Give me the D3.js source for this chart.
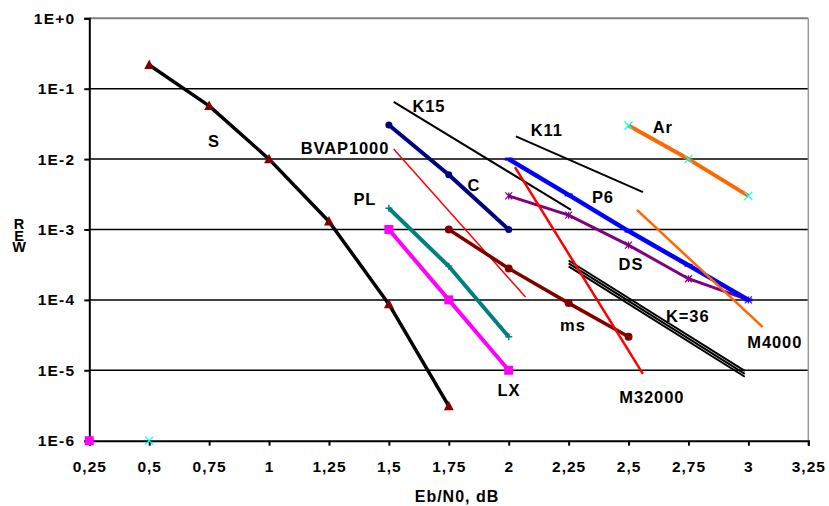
<!DOCTYPE html>
<html><head><meta charset="utf-8">
<script src="https://cdn.jsdelivr.net/npm/d3@7"></script>
<style>
html,body{margin:0;padding:0;background:#fff;}
svg{display:block;}
text{font-family:Arial,"Liberation Sans",sans-serif;font-weight:bold;fill:#000;}
</style></head>
<body>
<svg id="chart" width="829" height="506"></svg>
<script>
// ---- data ----
const xTicks = [0.25,0.5,0.75,1,1.25,1.5,1.75,2,2.25,2.5,2.75,3,3.25];
const yTicks = [1,1e-1,1e-2,1e-3,1e-4,1e-5,1e-6];
const yTickLabels = ["1E+0","1E-1","1E-2","1E-3","1E-4","1E-5","1E-6"];

const S_x = [0.5,0.75,1,1.25,1.5,1.75];
const S_y = [0.217,0.057,0.01,0.0013,8.7e-5,3.1e-6];
const LX_x = [1.5,1.75,2];
const LX_y = [1e-3,1e-4,1e-5];
const PL_x = [1.5,1.75,2];
const PL_y = [2e-3,3e-4,3e-5];
const C_x = [1.5,1.75,2];
const C_y = [0.0305,0.006,0.001];
const ms_x = [1.75,2,2.25,2.5];
const ms_y = [1e-3,2.8e-4,9e-5,3e-5];
const P6_x = [2,2.25,2.5,2.75,3];
const P6_y = [0.01,3.1e-3,9.5e-4,3.1e-4,1e-4];
const DS_x = [2,2.25,2.5,2.75,3];
const DS_y = [3e-3,1.6e-3,6e-4,2e-4,1e-4];
const Ar_x = [2.5,2.75,3];
const Ar_y = [0.03,0.01,0.003];
const BVAP_x = [1.52,2.07];
const BVAP_y = [0.0139,1.1e-4];
const K15_x = [1.52,2.26];
const K15_y = [0.065,0.0019];
const K11_x = [2.03,2.56];
const K11_y = [0.021,0.0034];
const M4000_x = [2.535,3.06];
const M4000_y = [1.9e-3,4.1e-5];
const M32000_x = [2.026,2.56];
const M32000_y = [7.7e-3,8.9e-6];
const K36a_x = [2.25,2.985];
const K36a_y = [3.63e-4,9.8e-6];
const K36b_x = [2.25,2.985];
const K36b_y = [3.3e-4,8.9e-6];
const K36c_x = [2.25,2.985];
const K36c_y = [3.0e-4,8.1e-6];
const stray1_x = [0.25], stray1_y = [1e-6];
const stray2_x = [0.5],  stray2_y = [1e-6];

// label anchors in data units
const labels = [
  ["S",0.77,0.0181],["K15",1.667,0.0568],["BVAP1000",1.317,0.0144],["C",1.855,0.00429],
  ["PL",1.40,0.00271],["K11",2.159,0.0259],["Ar",2.643,0.0286],["P6",2.393,0.0029],
  ["DS",2.51,3.24e-4],["K=36",2.747,5.9e-5],["M4000",3.11,2.52e-5],["ms",2.268,4.4e-5],
  ["LX",2.001,5.25e-6],["M32000",2.597,4.2e-6]
];

// ---- layout ----
const L = 89.3, R = 808.3, T = 18.3, B = 440.7;
const svg = d3.select("#chart");
const x = d3.scaleLinear().domain([0.25,3.25]).range([L,R]);
const y = d3.scaleLog().domain([1e-6,1]).range([B,T]);

// gridlines
svg.append("g").selectAll("line").data(yTicks.filter(v=>v<1 && v>1e-6)).join("line")
  .attr("x1",L).attr("x2",R).attr("y1",d=>y(d)).attr("y2",d=>y(d))
  .attr("stroke","#000").attr("stroke-width",1.5);
// top & right frame (grey)
svg.append("line").attr("x1",L).attr("x2",R).attr("y1",y(1)).attr("y2",y(1))
  .attr("stroke","#7f7f7f").attr("stroke-width",2);
svg.append("line").attr("x1",R).attr("x2",R).attr("y1",T).attr("y2",B)
  .attr("stroke","#9a9a9a").attr("stroke-width",1.5);

// axes
const fmtX = d => String(d).replace(".",",");
const xAxis = svg.append("g").attr("transform",`translate(0,${B})`)
  .call(d3.axisBottom(x).tickValues(xTicks).tickSize(5).tickPadding(15).tickFormat(fmtX));
const yAxis = svg.append("g").attr("transform",`translate(${L},0)`)
  .call(d3.axisLeft(y).tickValues(yTicks).tickSize(5).tickPadding(9)
    .tickFormat((d,i)=>yTickLabels[yTicks.indexOf(d)]));
[xAxis,yAxis].forEach(g=>{
  g.select(".domain").attr("stroke","#000").attr("stroke-width",2);
  g.selectAll(".tick line").attr("stroke","#000").attr("stroke-width",2);
  g.selectAll(".tick text").attr("font-family","Arial, 'Liberation Sans', sans-serif")
    .attr("font-weight","bold").attr("font-size",15.5).attr("fill","#000");
});
xAxis.selectAll(".tick text").style("letter-spacing","1px");
yAxis.selectAll(".tick text").style("letter-spacing","1.2px");

// axis titles
svg.append("text").attr("x",457).attr("y",502).attr("text-anchor","middle")
  .attr("font-size",16).style("letter-spacing","1px").text("Eb/N0, dB");
svg.append("text").attr("x",19).attr("y",216).attr("font-size",14.5)
  .style("writing-mode","vertical-rl").style("text-orientation","upright")
  .style("letter-spacing","-4.5px").text("REW");

// ---- series ----
const line = d3.line().x(d=>x(d[0])).y(d=>y(d[1]));
const zip = (xs,ys)=>xs.map((v,i)=>[v,ys[i]]);

function drawSeries(xs,ys,color,w,marker,mcolor,msize){
  const pts = zip(xs,ys);
  if(pts.length>1){
    svg.append("path").datum(pts).attr("d",line).attr("fill","none")
      .attr("stroke",color).attr("stroke-width",w)
      .attr("stroke-linejoin","round").attr("stroke-linecap","butt");
  }
  if(!marker) return;
  const g = svg.append("g");
  pts.forEach(p=>{
    const cx = x(p[0]), cy = y(p[1]), s = msize;
    if(marker==="tri"){
      g.append("path").attr("d",`M${cx},${cy-s*0.6}L${cx+s*0.55},${cy+s*0.45}L${cx-s*0.55},${cy+s*0.45}Z`).attr("fill",mcolor);
    } else if(marker==="sq"){
      g.append("rect").attr("x",cx-s/2).attr("y",cy-s/2).attr("width",s).attr("height",s).attr("fill",mcolor);
    } else if(marker==="circ"){
      g.append("circle").attr("cx",cx).attr("cy",cy).attr("r",s/2).attr("fill",mcolor);
    } else if(marker==="x"){
      g.append("path").attr("d",`M${cx-s/2},${cy-s/2}L${cx+s/2},${cy+s/2}M${cx-s/2},${cy+s/2}L${cx+s/2},${cy-s/2}`)
        .attr("stroke",mcolor).attr("stroke-width",1.2);
    } else if(marker==="ast"){
      g.append("path").attr("d",`M${cx-s/2},${cy-s/2}L${cx+s/2},${cy+s/2}M${cx-s/2},${cy+s/2}L${cx+s/2},${cy-s/2}M${cx},${cy-s/2}L${cx},${cy+s/2}`)
        .attr("stroke",mcolor).attr("stroke-width",1.3);
    } else if(marker==="dash"){
      g.append("path").attr("d",`M${cx-s/2},${cy}L${cx+s/2},${cy}`).attr("stroke",mcolor).attr("stroke-width",3);
    } else if(marker==="plus"){
      g.append("path").attr("d",`M${cx-s/2},${cy}L${cx+s/2},${cy}M${cx},${cy-s/2}L${cx},${cy+s/2}`)
        .attr("stroke",mcolor).attr("stroke-width",1.5);
    }
  });
}

drawSeries(S_x,S_y,"#000",3.5,"tri","#800000",9);
drawSeries(LX_x,LX_y,"#FF00FF",4,"sq","#FF00FF",9);
drawSeries(PL_x,PL_y,"#008080",4,"plus","#008080",7);
drawSeries(C_x,C_y,"#000080",4,"circ","#000080",7);
drawSeries(BVAP_x,BVAP_y,"#FF0000",1.5);
drawSeries(K15_x,K15_y,"#000",2);
drawSeries(K11_x,K11_y,"#000",2);
drawSeries(ms_x,ms_y,"#800000",3.5,"circ","#800000",8);
drawSeries(DS_x,DS_y,"#800080",3,"ast","#800080",7);
drawSeries(P6_x,P6_y,"#0000FF",4.5,"dash","#0000FF",8);
drawSeries(K36a_x,K36a_y,"#000",2);
drawSeries(K36b_x,K36b_y,"#000",2);
drawSeries(K36c_x,K36c_y,"#000",2);
drawSeries(M32000_x,M32000_y,"#FF0000",2.5);
drawSeries(Ar_x,Ar_y,"#FF6600",4,"x","#00FFFF",8);
drawSeries(M4000_x,M4000_y,"#FF6600",2.5);
drawSeries(stray1_x,stray1_y,"#FF00FF",0,"sq","#FF00FF",9);
drawSeries(stray2_x,stray2_y,"#00FFFF",0,"x","#00FFFF",8);

// labels
svg.append("g").selectAll("text").data(labels).join("text")
  .attr("x",d=>x(d[1])).attr("y",d=>y(d[2])+6).attr("text-anchor","middle")
  .attr("font-size",16.5).style("letter-spacing","0.9px").text(d=>d[0]);
</script>
</body></html>
